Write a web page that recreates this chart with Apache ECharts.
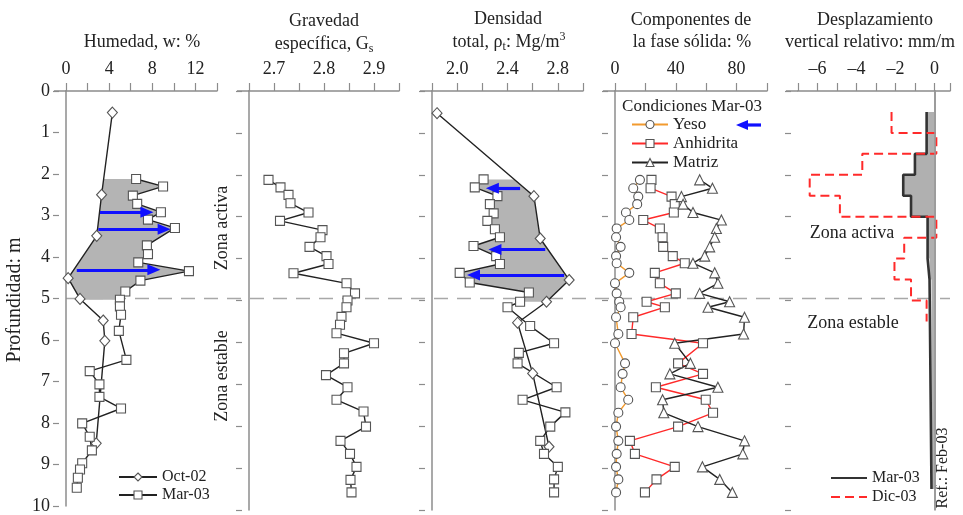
<!DOCTYPE html>
<html><head><meta charset="utf-8">
<script src="https://cdn.jsdelivr.net/npm/echarts@6/dist/echarts.min.js"></script>
<style>html,body{margin:0;padding:0;background:#fff}#c{width:963px;height:515px}</style>
</head><body><div id="c"></div>
<script>
// ---------------- DATA ----------------
const depthTicks = [0,1,2,3,4,5,6,7,8,9,10];
const humTicks = [0,4,8,12];
const gsTicks = [2.7,2.8,2.9];
const denTicks = [2.0,2.4,2.8];
const compTicks = [0,40,80];
const despTicks = [-6,-4,-2,0];

// Panel 1: Humedad w (%)
const humOctD = [0.52,2.50,3.49,4.51,5.01,5.53,6.02,8.49];
const humOctV = [4.3,3.3,2.85,0.2,1.3,3.45,3.6,2.8];
const humMarD = [2.12,2.30,2.52,2.72,2.92,3.10,3.30,3.72,3.93,4.13,4.34,4.57,4.83,5.03,5.19,5.39,5.78,6.48,6.75,7.07,7.37,7.65,8.01,8.33,8.66,8.97,9.12,9.32,9.56];
const humMarV = [6.5,9.0,6.2,6.6,8.8,7.6,10.1,7.5,7.6,6.7,11.4,6.9,5.5,5.0,5.0,5.1,4.9,5.6,2.2,3.1,3.1,5.1,1.5,2.2,2.4,1.5,1.3,1.1,1.0];
// arrows: [from, headCenter, depth]
const humArrows = [[3.15,7.5,2.92],[3.0,9.1,3.33],[1.0,8.15,4.31]];

// Panel 2: Gravedad especifica Gs
const gsD = [2.12,2.30,2.48,2.68,2.90,3.10,3.32,3.49,3.72,3.94,4.13,4.35,4.59,4.83,5.00,5.16,5.39,5.58,5.78,6.02,6.26,6.50,6.78,7.07,7.37,7.65,8.01,8.35,8.66,8.97,9.28,9.58];
const gsV = [2.689,2.713,2.729,2.733,2.769,2.712,2.797,2.793,2.771,2.805,2.809,2.739,2.845,2.862,2.847,2.845,2.835,2.832,2.825,2.900,2.840,2.840,2.804,2.847,2.825,2.879,2.884,2.833,2.852,2.865,2.853,2.855];

// Panel 3: Densidad total
const denOctD = [0.53,2.51,3.52,4.51,5.03,5.53,6.74,8.49];
const denOctV = [1.84,2.61,2.66,2.89,2.71,2.48,2.60,2.73];
const denMarD = [2.11,2.30,2.51,2.70,2.92,3.10,3.30,3.49,3.70,3.94,4.13,4.34,4.57,4.81,5.03,5.16,5.61,6.02,6.25,6.50,7.07,7.37,7.67,8.01,8.35,8.66,8.97,9.27,9.58];
const denMarV = [2.21,2.14,2.32,2.26,2.29,2.24,2.30,2.34,2.13,2.31,2.34,2.02,2.10,2.57,2.50,2.40,2.58,2.77,2.49,2.48,2.79,2.52,2.86,2.74,2.66,2.69,2.80,2.77,2.77];
const denArrows = [[2.50,2.28,2.32],[2.70,2.30,3.78],[2.85,2.13,4.39]];

// Panel 4: Componentes de la fase solida (%)
const compD = [2.12,2.32,2.52,2.70,2.90,3.08,3.28,3.49,3.72,3.94,4.11,4.34,4.59,4.83,5.03,5.16,5.40,5.80,6.02,6.50,6.75,7.07,7.37,7.68,8.01,8.35,8.66,8.97,9.27,9.58];
const yesoV = [16.4,12.0,15.3,14.6,7.2,9.4,1.1,0.7,3.7,0.7,1.1,9.4,0,1.1,2.8,3.7,0.7,2.2,0,6.6,5.0,3.7,8.7,2.2,0.7,2.2,1.1,0.7,2.2,0.7];
const anhV  = [24.0,23.4,37.2,39.3,38.7,18.6,29.5,31.3,31.7,38.0,45.9,26.2,29.5,40.0,20.8,32.8,12.0,10.9,57.9,41.5,57.9,26.9,59.7,64.5,41.5,9.8,13.1,39.3,27.3,19.7];
const matV  = [55.7,64.1,43.7,44.8,51.3,70.0,66.7,65.6,62.3,59.0,51.3,65.6,67.7,55.7,75.4,61.2,85.2,84.6,39.3,49.6,36.1,67.7,31.3,32.1,54.6,85.2,84.1,57.5,68.9,77.2];

// Panel 5: Desplazamiento vertical relativo (mm/m), step profiles
const marStepD = [0.5,1.5,2.0,2.5,3.0,4.0,4.5,9.5];
const marStepV = [-0.4,-1.0,-1.6,-1.2,-0.35,-0.25,-0.15];
const dicStepD = [0.5,1.0,1.5,2.0,2.5,3.0,3.5,4.0,4.5,5.0,5.5];
const dicStepV = [-2.2,0.1,-3.7,-6.4,-4.85,0.1,-1.55,-2.05,-1.2,-0.4];

// ---------------- HELPERS ----------------
const FONT = '"Liberation Serif","DejaVu Serif",serif';
const TXT = '#222';
const AX = '#8c8c8c';
const zip = (d, v) => d.map((x, i) => [v[i], x]);
function interp(D, V, d) {
  for (let i = 0; i < D.length - 1; i++) {
    if (d >= D[i] - 1e-9 && d <= D[i + 1] + 1e-9) {
      const t = (d - D[i]) / (D[i + 1] - D[i]);
      return V[i] + t * (V[i + 1] - V[i]);
    }
  }
  return V[V.length - 1];
}
function band(aD, aV, bD, bV, d0, d1) {
  const a = [];
  aD.forEach((d, i) => { if (d >= d0 - 1e-9 && d <= d1 + 1e-9) a.push([aV[i], d]); });
  const b = [[interp(bD, bV, d0), d0]];
  bD.forEach((d, i) => { if (d > d0 && d < d1) b.push([bV[i], d]); });
  b.push([interp(bD, bV, d1), d1]);
  return a.concat(b.reverse());
}
function steps(D, V) {
  const p = [];
  V.forEach((v, i) => { p.push([v, D[i]]); p.push([v, D[i + 1]]); });
  return p;
}
function tickFmt(list, fmt) {
  return v => { const f = list.find(t => Math.abs(t - v) < 1e-6); return f === undefined ? '' : fmt(f); };
}

const GRIDS = [{left:66,width:151},{left:249,width:150},{left:432,width:151},{left:615,width:152},{left:798,width:152}];
const TOP = 91, HEIGHT = 419;
const xDefs = [
  {min:0, max:14, interval:2, fmt: tickFmt(humTicks, v => String(v))},
  {min:2.65, max:2.95, interval:0.05, fmt: tickFmt(gsTicks, v => v.toFixed(1))},
  {min:1.8, max:3.0, interval:0.2, fmt: tickFmt(denTicks, v => v.toFixed(1))},
  {min:0, max:100, interval:20, fmt: tickFmt(compTicks, v => String(v))},
  {min:-7, max:0.8, interval:1, fmt: tickFmt(despTicks, v => v < 0 ? '\u2013' + Math.abs(v) : String(v))}
];

const grid = GRIDS.map(g => ({left:g.left, width:g.width, top:TOP, height:HEIGHT, containLabel:false}));
const xAxis = xDefs.map((d, i) => ({
  type:'value', gridIndex:i, position:'top', min:d.min, max:d.max, interval:d.interval,
  axisLine:{show:true, lineStyle:{color:AX, width:1.5}},
  axisTick:{show:true, inside:false, length:8, lineStyle:{color:AX, width:1.2}},
  axisLabel:{show:true, margin:13, formatter:d.fmt, color:TXT, fontFamily:FONT, fontSize:18, showMinLabel:true, showMaxLabel:true},
  splitLine:{show:false}
}));
const yAxis = [];
GRIDS.forEach((g, i) => {
  yAxis.push({type:'value', gridIndex:i, position:'left', inverse:true, min:0, max:10, interval:1,
    axisLine:{show:true, lineStyle:{color:AX, width:1.5}}, axisTick:{show:false}, axisLabel:{show:false}, splitLine:{show:false}});
  yAxis.push({type:'value', gridIndex:i, position:'left', inverse:true, min:0, max:10, interval:1, offset:7,
    axisLine:{show:false}, axisTick:{show:true, length:6, lineStyle:{color:AX, width:1.2}},
    axisLabel:{show:i === 0, margin:9, color:TXT, fontFamily:FONT, fontSize:18,
      formatter: v => depthTicks.includes(v) ? String(v) : ''},
    splitLine:{show:false}});
});

const markerStyle = {color:'#fff', borderColor:'#555', borderWidth:1.1};
function profile(name, i, D, V, symbol, size, lineColor, extra) {
  return Object.assign({
    name, type:'line', xAxisIndex:i, yAxisIndex:2*i, data:zip(D, V),
    symbol, symbolSize:size, showSymbol:true, animation:false,
    lineStyle:{color:lineColor, width:1.4}, itemStyle:Object.assign({}, markerStyle), z:3
  }, extra || {});
}
function poly(i, pts, fill, z) {
  return {type:'custom', xAxisIndex:i, yAxisIndex:2*i, silent:true, animation:false, z:z || 1,
    data:[pts[0]],
    renderItem:(params, api) => ({type:'polygon', shape:{points:pts.map(p => api.coord(p))}, style:{fill:fill, stroke:null}})};
}
function arrows(i, list) {
  return {type:'line', xAxisIndex:i, yAxisIndex:2*i, data:[], silent:true, animation:false, z:5,
    markLine:{silent:true, symbol:['none','triangle'], symbolSize:[11,13], animation:false,
      label:{show:false}, lineStyle:{color:'#1010ff', width:3.2, type:'solid'},
      data:list.map(a => [{coord:[a[0], a[2]]}, {coord:[a[1], a[2]]}])}};
}

const series = [
  poly(0, band(humMarD, humMarV, humOctD, humOctV, 2.12, 5.03), '#b4b4b4'),
  profile('Oct-02', 0, humOctD, humOctV, 'diamond', [10,11], '#222'),
  profile('Mar-03', 0, humMarD, humMarV, 'rect', 9, '#222'),
  arrows(0, humArrows),

  profile('Mar-03', 1, gsD, gsV, 'rect', 9, '#222'),

  poly(2, band(denMarD, denMarV, denOctD, denOctV, 2.11, 5.03), '#b4b4b4'),
  profile('Oct-02', 2, denOctD, denOctV, 'diamond', [10,11], '#222'),
  profile('Mar-03', 2, denMarD, denMarV, 'rect', 9, '#222'),
  arrows(2, denArrows),

  profile('Yeso', 3, compD, yesoV, 'circle', 9, '#f29a2e'),
  profile('Anhidrita', 3, compD, anhV, 'rect', 9, '#ff2a2a'),
  profile('Matriz', 3, compD, matV, 'triangle', 10, '#222'),

  (function(){
    const p = steps(marStepD, marStepV);
    const pts = p.concat([[0, marStepD[marStepD.length-1]], [0, marStepD[0]]]);
    return poly(4, pts, '#b0b0b0');
  })(),
  {name:'D Mar-03', type:'line', xAxisIndex:4, yAxisIndex:8, data:steps(marStepD, marStepV), symbol:'none', animation:false,
    lineStyle:{color:'#333', width:2.6}, itemStyle:{color:'#333'}, z:3,
    markLine:{silent:true, symbol:['none','none'], animation:false, label:{show:false},
      lineStyle:{color:'#999', width:1.5, type:'solid'}, data:[{xAxis:0}]}},
  {name:'D Dic-03', type:'line', xAxisIndex:4, yAxisIndex:8, data:steps(dicStepD, dicStepV), symbol:'none', animation:false,
    lineStyle:{color:'#ff2a2a', width:2, type:[9,5]}, itemStyle:{color:'#ff2a2a'}, z:4}
];

const legTxt = {color:TXT, fontFamily:FONT, fontSize:16, lineHeight:16};
const legMarker = {color:'#fff', borderColor:'#555', borderWidth:1.1};
const legend = [
  {data:['Oct-02','Mar-03'], orient:'vertical', left:118, top:469, itemWidth:38, itemHeight:10, itemGap:2, selectedMode:false, textStyle:legTxt, padding:0,
    itemStyle:legMarker},
  {data:['Yeso','Anhidrita','Matriz'], orient:'vertical', left:631, top:116, itemWidth:36, itemHeight:10, itemGap:2, selectedMode:false,
    textStyle:Object.assign({}, legTxt, {fontSize:17, lineHeight:16}), padding:0, itemStyle:legMarker},
  {data:['D Mar-03','D Dic-03'], orient:'vertical', left:830, top:470, itemWidth:36, itemHeight:10, itemGap:3, selectedMode:false, textStyle:legTxt, padding:0,
    itemStyle:{opacity:0}, formatter: n => n.replace('D ', '')}
];

const T = (x, y, text, opts) => Object.assign({type:'text', x, y, silent:true,
  style:Object.assign({text, fill:TXT, font:'18px ' + FONT, align:'center', verticalAlign:'middle'}, (opts && opts.style) || {})},
  opts && opts.rotation !== undefined ? {rotation:opts.rotation} : {});

const graphic = [
  T(142, 42, 'Humedad, w: %'),
  T(324, 21, 'Gravedad'),
  {type:'text', x:324, y:44, silent:true, style:{text:'{n|específica, G}{s|s}', align:'center', verticalAlign:'middle',
    rich:{n:{fontSize:18, fontFamily:FONT, fill:TXT, lineHeight:22}, s:{fontSize:12, fontFamily:FONT, fill:TXT, lineHeight:12, verticalAlign:'bottom'}}}},
  T(508, 19, 'Densidad'),
  {type:'text', x:509, y:42, silent:true, style:{text:'{n|total, ρ}{s|t}{n|: Mg/m}{p|3}', align:'center', verticalAlign:'middle',
    rich:{n:{fontSize:18, fontFamily:FONT, fill:TXT, lineHeight:22}, s:{fontSize:12, fontFamily:FONT, fill:TXT, lineHeight:12, verticalAlign:'bottom'},
      p:{fontSize:12, fontFamily:FONT, fill:TXT, lineHeight:12, verticalAlign:'top'}}}},
  T(691, 20, 'Componentes de'),
  T(692, 42, 'la fase sólida: %'),
  T(875, 20, 'Desplazamiento'),
  {type:'text', x:785, y:42, silent:true, style:{text:'vertical relativo: mm/m', fill:TXT, font:'18px ' + FONT, align:'left', verticalAlign:'middle'}},
  T(15, 300, 'Profundidad: m', {rotation:Math.PI/2, style:{font:'20px ' + FONT}}),
  T(222, 228, 'Zona activa', {rotation:Math.PI/2}),
  T(222, 376, 'Zona estable', {rotation:Math.PI/2}),
  T(852, 233, 'Zona activa'),
  T(853, 323, 'Zona estable'),
  T(943, 468, 'Ref.: Feb-03', {rotation:Math.PI/2, style:{font:'16px ' + FONT}}),
  T(692, 107, 'Condiciones Mar-03', {style:{font:'17px ' + FONT}}),
  // legend arrow (blue, pointing left)
  {type:'line', silent:true, shape:{x1:747, y1:125, x2:761, y2:125}, style:{stroke:'#1010ff', lineWidth:3.2}},
  {type:'polygon', silent:true, shape:{points:[[736,125],[748,120],[748,130]]}, style:{fill:'#1010ff'}}
];
// extend top axis lines to the left of each panel
GRIDS.forEach(g => graphic.push({type:'line', silent:true, shape:{x1:g.left - 12, y1:TOP, x2:g.left, y2:TOP}, style:{stroke:AX, lineWidth:1.5}}));

const chart = echarts.init(document.getElementById('c'));
chart.setOption({animation:false, backgroundColor:'#fff', grid, xAxis, yAxis, series, legend, graphic});

// dashed boundary line at depth 5 across all panels
const y5 = chart.convertToPixel({yAxisIndex:0}, 5);
graphic.push({type:'line', silent:true, z:0, shape:{x1:GRIDS[0].left, y1:y5, x2:GRIDS[4].left + GRIDS[4].width, y2:y5},
  style:{stroke:'#a8a8a8', lineWidth:1.5, lineDash:[14,9]}});
chart.setOption({graphic});
</script></body></html>
